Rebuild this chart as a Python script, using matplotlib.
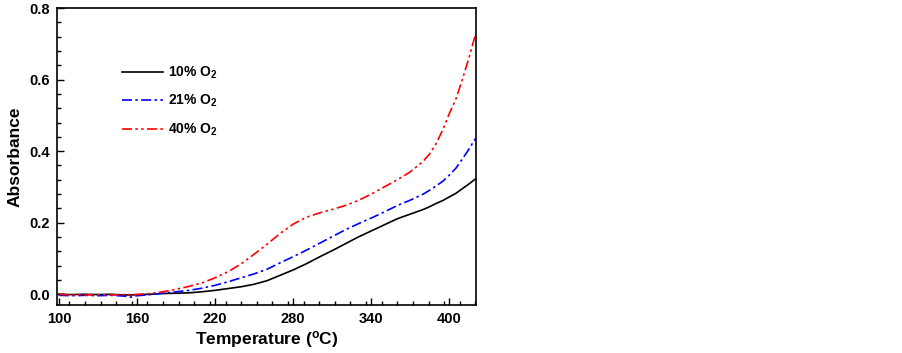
import matplotlib
matplotlib.use("Agg")
import matplotlib.pyplot as plt
from matplotlib.ticker import MultipleLocator

plt.rcParams['font.family'] = ['Liberation Sans', 'DejaVu Sans']
plt.rcParams['font.weight'] = 'bold'
plt.rcParams['mathtext.fontset'] = 'custom'
plt.rcParams['mathtext.rm'] = 'Liberation Sans:bold'
plt.rcParams['mathtext.it'] = 'Liberation Sans:bold'
plt.rcParams['mathtext.bf'] = 'Liberation Sans:bold'

temperature = [100, 110, 120, 130, 140, 150, 155, 160, 170, 180, 190, 200, 210, 220, 230, 240,
               250, 260, 270, 280, 290, 300, 310, 320, 330, 340, 350, 360, 370, 380, 385,
               390, 395, 400, 405, 410, 415, 420]
o2_10 = [0.000, -0.001, 0.000, -0.001, 0.000, -0.002, -0.002, -0.001, 0.000, 0.002, 0.003, 0.004,
         0.007, 0.011, 0.016, 0.021, 0.028, 0.038, 0.053, 0.068, 0.085, 0.104, 0.122, 0.141,
         0.160, 0.177, 0.194, 0.211, 0.224, 0.237, 0.245, 0.254, 0.262, 0.272, 0.282, 0.295,
         0.308, 0.322]
o2_21 = [-0.003, -0.004, -0.003, -0.004, -0.003, -0.005, -0.008, -0.004, -0.001, 0.003, 0.007,
         0.011, 0.017, 0.025, 0.035, 0.046, 0.057, 0.070, 0.088, 0.105, 0.123, 0.142, 0.161,
         0.180, 0.197, 0.213, 0.230, 0.248, 0.263, 0.280, 0.291, 0.303, 0.316, 0.333, 0.352,
         0.378, 0.405, 0.435]
o2_40 = [0.000, -0.002, -0.002, -0.001, -0.002, -0.001, -0.001, -0.001, 0.002, 0.007, 0.014,
         0.022, 0.032, 0.046, 0.063, 0.085, 0.112, 0.140, 0.170, 0.196, 0.215, 0.227, 0.237,
         0.248, 0.262, 0.280, 0.300, 0.320, 0.342, 0.372, 0.393, 0.422, 0.460, 0.505, 0.545,
         0.600, 0.660, 0.725]
labels = ['10% O$_2$', '21% O$_2$', '40% O$_2$']

fig = plt.figure(figsize=(9.02, 3.53), dpi=100)
ax = fig.add_axes([57/902, 1-305/353, 419/902, 297/353])

ax.plot(temperature, o2_10, color='black', lw=1.2, ls='-', label=labels[0])
ax.plot(temperature, o2_21, color='blue', lw=1.2, ls=(0, (6, 2, 1.5, 2)), label=labels[1])
ax.plot(temperature, o2_40, color='red', lw=1.2, ls=(0, (6, 2, 1.5, 2, 1.5, 2)), label=labels[2])

ax.set_xlim(98.5, 420.5)
ax.set_ylim(-0.03, 0.8)
ax.xaxis.set_minor_locator(MultipleLocator(12))
ax.yaxis.set_major_locator(MultipleLocator(0.2))
ax.yaxis.set_minor_locator(MultipleLocator(0.04))
ax.set_xticks([100, 160, 220, 280, 340, 400])
ax.tick_params(which='both', direction='in', top=False, right=False, labelsize=10.5)
ax.tick_params(which='major', length=5, width=1, pad=5)
ax.tick_params(which='minor', length=3, width=1)
ax.yaxis.set_major_formatter(matplotlib.ticker.FormatStrFormatter('%.1f'))
for s in ax.spines.values():
    s.set_linewidth(1.2)

ax.set_xlabel('Temperature ($^{\\mathrm{o}}$C)', fontsize=12.5, fontweight='bold', labelpad=2)
ax.set_ylabel('Absorbance', fontsize=12.5, fontweight='bold', labelpad=5)

ax.legend(loc='upper left', bbox_to_anchor=(0.1255, 0.852), frameon=False, fontsize=10,
          handlelength=2.95, handletextpad=0.36, labelspacing=0.87)

fig.savefig('out.png', dpi=100)
